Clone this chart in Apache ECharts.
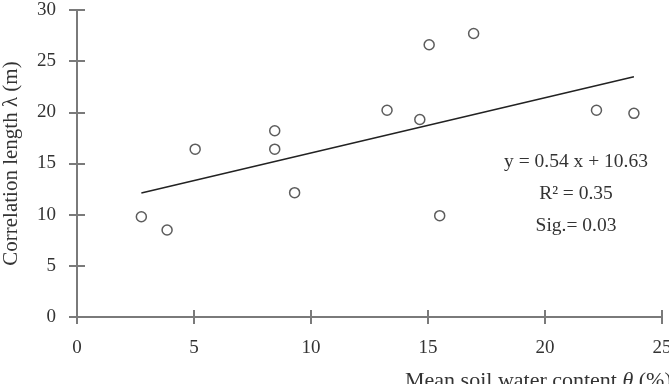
<!DOCTYPE html>
<html>
<head>
<meta charset="utf-8">
<script src="https://cdn.jsdelivr.net/npm/echarts@6/dist/echarts.min.js"></script>
<style>
  html, body { margin: 0; padding: 0; background: #fff; }
  #chart { width: 669px; height: 384px; }
</style>
</head>
<body>
<div id="chart"></div>
<script>
// 散点数据：平均土壤含水量 θ (%) 与相关长度 λ (m)
const waterContent = [2.75, 3.85, 5.05, 8.45, 8.45, 9.3, 13.25, 14.65, 15.05, 16.95, 15.5, 22.2, 23.8]
const corrLength = [9.8, 8.5, 16.4, 18.2, 16.4, 12.15, 20.2, 19.3, 26.6, 27.7, 9.9, 20.2, 19.9]

// 回归线 y = 0.54 x + 10.63
const slope = 0.54
const intercept = 10.63
const fitRange = [2.75, 23.8]
const statLines = ['y = 0.54 x + 10.63', 'R² = 0.35', 'Sig.= 0.03']

const axisColor = '#7a7a7a'
const textColor = '#333'
const font = 'Liberation Serif'

const scatterData = waterContent.map((x, i) => [x, corrLength[i]])
const fitData = fitRange.map(x => [x, slope * x + intercept])

const chart = echarts.init(document.getElementById('chart'))

const baseX = {
  type: 'value', min: 0, max: 25, interval: 5,
  splitLine: { show: false },
  axisLine: { lineStyle: { color: axisColor, width: 2 } }
}
const baseY = {
  type: 'value', min: 0, max: 30, interval: 5,
  splitLine: { show: false },
  axisLine: { lineStyle: { color: axisColor, width: 2 } }
}

chart.setOption({
  animation: false,
  textStyle: { fontFamily: font },
  grid: { left: 77, right: 7, top: 10, bottom: 67, outerBoundsMode: 'none', containLabel: false },
  xAxis: [
    Object.assign({}, baseX, {
      axisTick: { length: 7, lineStyle: { color: axisColor, width: 2 } },
      axisLabel: { margin: 22, fontSize: 19, color: textColor, fontFamily: font }
    }),
    Object.assign({}, baseX, {
      position: 'bottom',
      axisLine: { show: false },
      axisTick: { inside: true, length: 7, lineStyle: { color: axisColor, width: 2 } },
      axisLabel: { show: false }
    })
  ],
  yAxis: [
    Object.assign({}, baseY, {
      name: 'Correlation length λ (m)',
      nameLocation: 'middle',
      nameGap: 55,
      nameTextStyle: { fontSize: 21, color: textColor, fontFamily: font },
      axisTick: { length: 8, lineStyle: { color: axisColor, width: 2 } },
      axisLabel: { margin: 21, fontSize: 19, color: textColor, fontFamily: font }
    }),
    Object.assign({}, baseY, {
      position: 'left',
      axisLine: { show: false },
      axisTick: { inside: true, length: 8, lineStyle: { color: axisColor, width: 2 } },
      axisLabel: { show: false }
    })
  ],
  series: [
    {
      type: 'scatter',
      data: scatterData,
      symbol: 'circle',
      symbolSize: 10,
      itemStyle: { color: '#fff', borderColor: '#333', borderWidth: 1.5 },
      z: 3
    },
    {
      type: 'line',
      data: fitData,
      showSymbol: false,
      lineStyle: { color: '#222', width: 1.5 },
      z: 2
    }
  ],
  graphic: [
    {
      type: 'text',
      left: 405,
      top: 370,
      style: {
        text: 'Mean soil water content {i|θ} (%)',
        font: '22px "Liberation Serif"',
        fill: textColor,
        rich: { i: { fontStyle: 'italic', fontSize: 22, fontFamily: font, fill: textColor } }
      }
    },
    ...statLines.map((t, i) => ({
      type: 'text',
      x: 576,
      y: 162 + i * 32,
      style: {
        text: t,
        font: '19.5px "Liberation Serif"',
        fill: textColor,
        textAlign: 'center',
        textVerticalAlign: 'middle'
      }
    }))
  ]
})
</script>
</body>
</html>
